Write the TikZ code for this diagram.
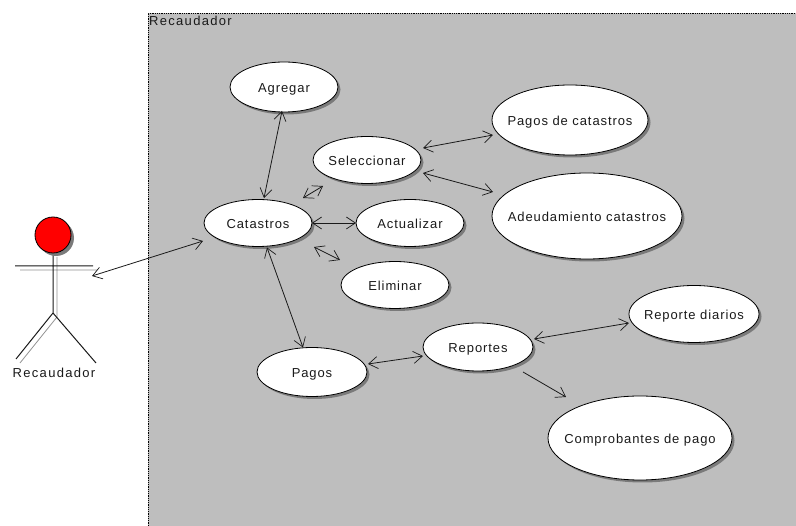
\documentclass[tikz,border=0pt]{standalone}
\usepackage{fontspec}
\setmainfont[LetterSpace=7]{Liberation Sans}
\newfontfamily\labelfont[LetterSpace=10]{Liberation Sans}
\usetikzlibrary{shapes.geometric,arrows.meta,shadows}
\definecolor{sysgrey}{HTML}{BEBEBE}
\definecolor{shade}{HTML}{7A7A7A}
\definecolor{ink}{HTML}{1A1A1A}
\newcommand{\uc}[1]{\raisebox{-5.5pt}[0pt][0pt]{\makebox[0pt]{#1}}}
\tikzset{
  usecase/.style={ellipse,draw=black,line width=.8pt,fill=white,inner sep=0pt,outer sep=0pt,
    minimum width=2*#1,font=\fontsize{13}{15}\selectfont,text=ink,
    drop shadow={shadow xshift=2.5pt,shadow yshift=-2.5pt,fill=shade,opacity=1}},
  usecase/.default=54pt,
  link/.style={draw=ink,line width=.8pt,{Straight Barb[length=9pt,width=12pt,line width=.7pt]}-{Straight Barb[length=9pt,width=12pt,line width=.7pt]}},
  oneway/.style={draw=ink,line width=.8pt,-{Straight Barb[length=9pt,width=12pt,line width=.7pt]}},
  label/.style={font=\labelfont\fontsize{13}{15}\selectfont,text=ink,inner sep=0pt},
  stick/.style={draw=ink,line width=1pt},
  stickshade/.style={draw=gray!85,line width=.8pt}
}
\begin{document}
\begin{tikzpicture}[x=1pt,y=-1pt]
\useasboundingbox (0,0) rectangle (796,526);
\fill[white] (0,0) rectangle (796,526);
\fill[sysgrey] (148,13) rectangle (796,526);
\draw[black,line width=.8pt,densely dotted] (148,526) -- (148,13) -- (796,13);
\node[label,anchor=west] (sysname) at (149,21) {Recaudador};

% actor
\draw[stickshade] (57,257) -- (57,317) (20,270) -- (97,270) (57,317) -- (20,363);
\draw[stick] (53,253) -- (53,313) (15,266) -- (93,266) (16,359) -- (53,313) -- (96,363);
\node[circle,draw=black,line width=.8pt,fill=red,minimum size=36pt,inner sep=0pt,
  drop shadow={shadow xshift=3pt,shadow yshift=-3pt,fill=shade,opacity=1}] (head) at (53,235) {};
\node[label] (actor) at (54,373) {Recaudador};
\coordinate (hand) at (92,276);

% use cases
\node[usecase,minimum height=50pt] (agr) at (284,87) {\uc{Agregar}};
\node[usecase,minimum height=47pt] (sel) at (367,160) {\uc{Seleccionar}};
\node[usecase,minimum height=47pt] (cat) at (258,223) {\uc{Catastros}};
\node[usecase,minimum height=47pt] (act) at (410,223) {\uc{Actualizar}};
\node[usecase,minimum height=47pt] (eli) at (395,285) {\uc{Eliminar}};
\node[usecase=55pt,minimum height=49pt] (pag) at (312,372) {\uc{Pagos}};
\node[usecase=55pt,minimum height=48pt] (rep) at (478,347) {\uc{Reportes}};
\node[usecase=78pt,minimum height=70pt] (pcat) at (570,120) {\uc{Pagos de catastros}};
\node[usecase=95pt,minimum height=86pt] (ade) at (587,216) {\uc{Adeudamiento catastros}};
\node[usecase=65pt,minimum height=57pt] (rdi) at (694,314) {\uc{Reporte diarios}};
\node[usecase=92pt,minimum height=84pt] (com) at (640,438) {\uc{Comprobantes de pago}};

% free ends
\coordinate (csA) at (303,198);
\coordinate (csB) at (323,186);
\coordinate (ceA) at (314,247);
\coordinate (ceB) at (340,260);
\coordinate (rcA) at (523,372);
\coordinate (rcB) at (566,397);

% connectors
\draw[link] (hand) -- ([shift={(-1,18)}]cat.west);
\draw[link] ([shift={(6,-1.5)}]cat.north) -- ([shift={(-2,-1)}]agr.south);
\draw[link] (csA) -- (csB);
\draw[link] (cat.east) -- (act.west);
\draw[link] (ceA) -- (ceB);
\draw[link] ([shift={(9,1)}]cat.south) -- ([shift={(-9,0)}]pag.north);
\draw[link] ([shift={(2,-12)}]sel.east) -- ([shift={(1,15)}]pcat.west);
\draw[link] ([shift={(2,13)}]sel.east) -- ([shift={(1,-24)}]ade.west);
\draw[link] ([shift={(1,-8)}]pag.east) -- ([shift={(0,9)}]rep.west);
\draw[link] ([shift={(1,-8)}]rep.east) -- ([shift={(0,9)}]rdi.west);
\draw[oneway] (rcA) -- (rcB);
\end{tikzpicture}
\end{document}
